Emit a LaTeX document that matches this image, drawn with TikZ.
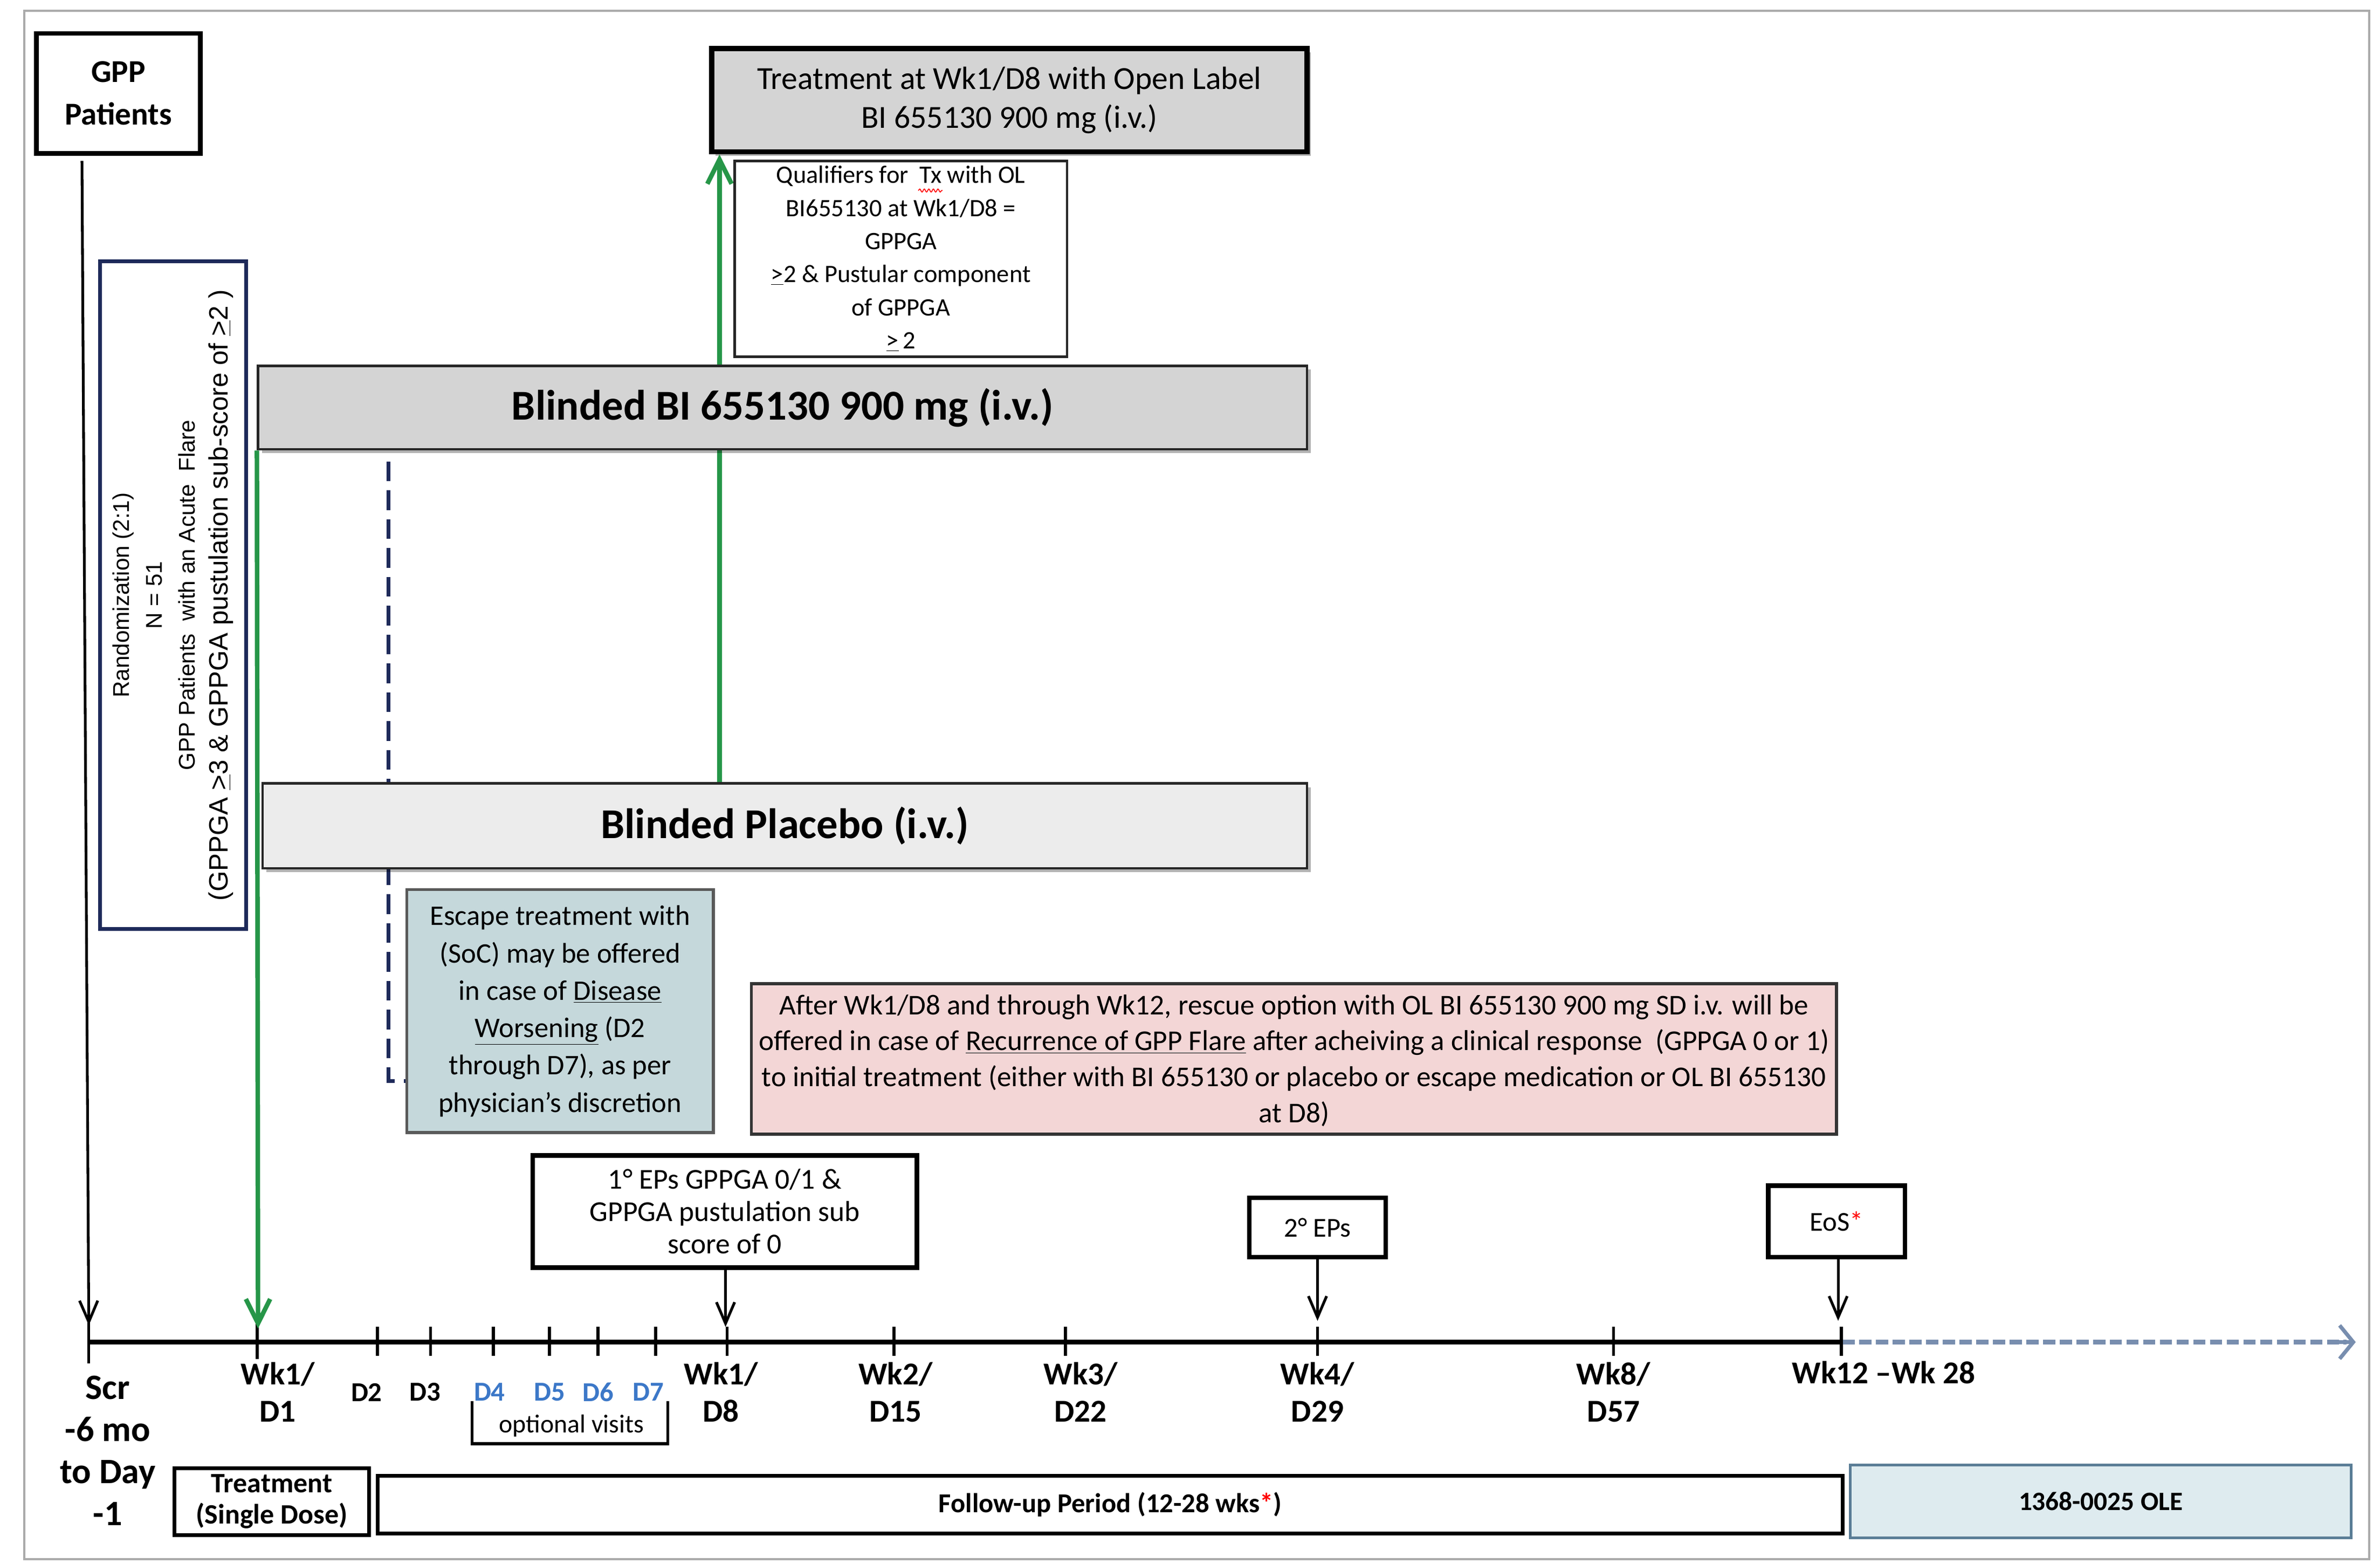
\documentclass[tikz,border=0pt]{standalone}
\usepackage{fontspec}
\setmainfont{Carlito}
\newfontfamily\arialf{Liberation Sans}
\usetikzlibrary{arrows.meta,shadows,decorations.pathmorphing}
\definecolor{boxgray}{RGB}{212,212,212}
\definecolor{plagray}{RGB}{236,236,236}
\definecolor{navyc}{RGB}{30,42,90}
\definecolor{greenc}{RGB}{38,150,72}
\definecolor{escfill}{RGB}{197,216,219}
\definecolor{pinkfill}{RGB}{243,214,214}
\definecolor{olefill}{RGB}{222,235,239}
\definecolor{olebd}{RGB}{90,125,150}
\definecolor{dashblue}{RGB}{120,142,175}
\definecolor{dayblue}{RGB}{60,120,200}
\definecolor{framegray}{RGB}{170,170,170}
\begin{document}
\begin{tikzpicture}[x=1pt,y=-1pt,
  box/.style={draw, inner sep=0pt, align=center, anchor=center},
  thickbox/.style={box, line width=3pt, fill=white},
  shad/.style={drop shadow={shadow xshift=2.5pt,shadow yshift=-2.5pt,opacity=0.3,fill=black}},
  axlab/.style={font=\bfseries\fontsize{21}{24.5}\selectfont, align=center, inner sep=0pt},
  daylab/.style={font=\bfseries\fontsize{18}{20}\selectfont, inner sep=0pt},
  blkarrow/.style={line width=1.8pt, -{Straight Barb[length=14pt,width=12pt,line width=1.8pt]}},
  grnarrow/.style={greenc, line width=3pt, -{Straight Barb[length=16pt,width=16pt,line width=3pt]}},
  tickmark/.style={line width=2pt}
]
\useasboundingbox (0,0) rectangle (1568,1030);
\fill[white] (0,0) rectangle (1568,1030);
\draw[framegray, line width=1.5pt] (16,7) rectangle (1561,1027);

% connectors drawn under boxes
\coordinate (gmid) at (474,516);
\coordinate (dtop) at (256,304);
\coordinate (dcorner) at (256,712);

% top boxes
\node[box, fill=boxgray, line width=3.5pt, minimum width=392pt, minimum height=68pt, shad,
      font=\fontsize{21.2}{25.8}\selectfont] (ol) at (665,66)
      {Treatment at Wk1/D8 with Open Label\\BI 655130 900 mg (i.v.)};
\draw[grnarrow] (gmid) -- (gmid |- ol.south);
\draw[navyc, line width=2.5pt, dash pattern=on 13pt off 6pt] (dtop) -- (dcorner) -- (268,712);

\node[thickbox, minimum width=108pt, minimum height=79pt,
      font=\bfseries\fontsize{21}{28}\selectfont] (gpp) at (78,61.5) {GPP\\Patients};

\node[box, fill=white, draw=black!85, line width=1.5pt, minimum width=219pt, minimum height=129pt,
      font=\fontsize{16.5}{21.8}\selectfont] (qual) at (593.5,170.5)
      {Qualifiers for\ \ Tx with OL\\BI655130 at Wk1/D8 =\\GPPGA\\\underline{>}2 \& Pustular component\\of GPPGA\\\underline{>}\,2};
\draw[red, line width=0.6pt, decorate, decoration={snake, amplitude=1pt, segment length=3pt}] (605,125.5) -- (621,125.5);

\node[box, fill=boxgray, draw=black!85, line width=1.5pt, minimum width=691pt, minimum height=55pt, shad,
      font=\bfseries\fontsize{28}{30}\selectfont] (bbi) at (515.5,268.5) {Blinded BI 655130 900 mg (i.v.)};
\node[box, fill=plagray, draw=black!85, line width=1.5pt, minimum width=688pt, minimum height=56pt, shad,
      font=\bfseries\fontsize{28}{30}\selectfont] (pla) at (517,544) {Blinded Placebo (i.v.)};

\node[box, fill=white, draw=navyc, line width=2.5pt, minimum width=96pt, minimum height=440pt] (rand) at (114,392) {};
\node[rotate=90, align=center, inner sep=0pt, font=\arialf\fontsize{15}{21.7}\selectfont] (randtext) at (rand.center)
      {Randomization (2:1)\\N = 51\\GPP Patients\ \ with an Acute\ \ Flare\\{\fontsize{17.5}{21.7}\selectfont(GPPGA \underline{>}3 \& GPPGA pustulation sub-score of \underline{>}2 )}};

\node[box, fill=escfill, draw=black!65, line width=2pt, minimum width=202pt, minimum height=160pt,
      font=\fontsize{18.7}{24.6}\selectfont] (esc) at (369,666)
      {Escape treatment with\\(SoC) may be offered\\in case of \underline{Disease}\\\underline{Worsening} (D2\\through D7), as per\\physician’s discretion};

\node[box, fill=pinkfill, draw=black!80, line width=2pt, minimum width=715pt, minimum height=99pt] (pink) at (852.5,697.5) {};
\node[align=center, inner sep=0pt, font=\fontsize{18.9}{23.7}\selectfont] (pinktext) at (852.5,698.5)
      {After Wk1/D8 and through Wk12, rescue option with OL BI 655130 900 mg SD i.v. will be\\offered in case of \underline{Recurrence of GPP Flare} after acheiving a clinical response\ \ (GPPGA 0 or 1)\\to initial treatment (either with BI 655130 or placebo or escape medication or OL BI 655130\\at D8)};

% endpoint boxes
\node[thickbox, minimum width=253pt, minimum height=74pt, font=\fontsize{19}{21.3}\selectfont] (eps1) at (477.5,798)
      {1° EPs GPPGA 0/1 \&\\GPPGA pustulation sub\\score of 0};
\node[thickbox, minimum width=90pt, minimum height=39pt, font=\fontsize{18}{20}\selectfont] (eps2) at (868,808.5) {2° EPs};
\node[thickbox, minimum width=90pt, minimum height=47pt, font=\fontsize{18}{20}\selectfont] (eos) at (1210,804.5) {EoS{\color{red}*}};

% axis
\coordinate (ax0) at (59,884);
\coordinate (ax1) at (1214,884);
\coordinate (axend) at (1552,884);
\draw[dashblue, line width=3pt, dash pattern=on 8pt off 3pt] (ax1) -- (1546,884);
\draw[dashblue, line width=2.5pt, -{Straight Barb[length=9pt,width=22pt,line width=2.5pt]}] (1540,884) -- (axend);
\draw[line width=3pt] (ax0) -- (ax1);
\foreach \x in {248.7,283.6,325,362,394,432,479,589,702,868,1063,1213}
  \draw[tickmark] (\x,874) -- (\x,893);
\draw[tickmark] (58.5,870) -- (58.5,898);
\draw[tickmark] (169.5,870) -- (169.5,895);

% arrows
\coordinate (gppfoot) at (54,106);
\coordinate (scrtop) at (58.5,873);
\coordinate (d1top) at (170,875);
\coordinate (d8top) at (478,874);
\coordinate (d29top) at (868,870);
\coordinate (wk12top) at (1211,870);
\draw[blkarrow] (gppfoot) -- (scrtop);
\draw[grnarrow] (bbi.south west) -- (d1top);
\draw[blkarrow] (eps1.south -| d8top) -- (d8top);
\draw[blkarrow] (eps2.south) -- (d29top);
\draw[blkarrow] (eos.south -| wk12top) -- (wk12top);

% axis labels
\node[axlab, font=\bfseries\fontsize{23.5}{27.6}\selectfont] (lscr) at (71,955.5) {Scr\\-6 mo\\to Day\\-1};
\node[axlab] (ld1) at (183,917) {Wk1/\\D1};
\node[daylab] (ld2) at (241.5,917) {D2};
\node[daylab] (ld3) at (280,917) {D3};
\node[daylab, dayblue] (ld4) at (322.5,917) {D4};
\node[daylab, dayblue] (ld5) at (362,917) {D5};
\node[daylab, dayblue] (ld6) at (394,917) {D6};
\node[daylab, dayblue] (ld7) at (427,917) {D7};
\node[axlab] (ld8) at (475,917) {Wk1/\\D8};
\node[axlab] (ld15) at (590,917) {Wk2/\\D15};
\node[axlab] (ld22) at (712,917) {Wk3/\\D22};
\node[axlab] (ld29) at (868,917) {Wk4/\\D29};
\node[axlab] (ld57) at (1063,917) {Wk8/\\D57};
\node[axlab] (lwk12) at (1241,904) {Wk12 –Wk 28};

\draw[line width=2pt] (311,923) -- (311,951) -- (440,951) -- (440,923);
\node[inner sep=0pt, font=\fontsize{17}{20}\selectfont] (opt) at (376.5,939) {optional visits};

% bottom bars
\node[thickbox, line width=2.5pt, minimum width=128pt, minimum height=44pt,
      font=\bfseries\fontsize{18.5}{20.5}\selectfont] (treat) at (179,989) {Treatment\\(Single Dose)};
\node[thickbox, line width=2.5pt, minimum width=965pt, minimum height=38pt,
      font=\bfseries\fontsize{18}{20}\selectfont] (fup) at (731.5,991) {Follow-up Period (12-28 wks{\color{red}*})};
\node[box, fill=olefill, draw=olebd, line width=2pt, minimum width=330pt, minimum height=48pt,
      font=\bfseries\fontsize{17.5}{20}\selectfont] (ole) at (1384,989) {1368-0025 OLE};
\end{tikzpicture}
\end{document}
